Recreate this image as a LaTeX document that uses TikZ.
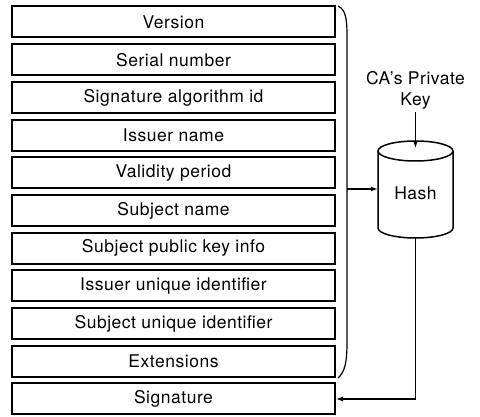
\documentclass[tikz,border=0pt]{standalone}
\usepackage{fontspec}
\setmainfont{TeX Gyre Heros}[LetterSpace=3]
\usepackage{tikz}
\usetikzlibrary{positioning, calc}
\usetikzlibrary{arrows.meta}

\begin{document}
\begin{tikzpicture}[x=1pt, y=1pt, font=\fontsize{17.5}{21}\selectfont,
    field/.style={draw, line width=2pt, minimum width=323pt, minimum height=31pt, inner sep=0pt},
    conn/.style={line width=1.2pt},
    tip/.style={-{Latex[length=7pt,width=5pt]}}]
            \useasboundingbox (0,0) rectangle (480,417);
            % certificate fields
            \foreach \t [count=\i] in {Version, Serial number, Signature algorithm id, Issuer name,
                Validity period, Subject name, Subject public key info, Issuer unique identifier,
                Subject unique identifier, Extensions, Signature}{
                \node[field] (f\i) at (173.5, {395-37.7*(\i-1)}) {\t};
            }
            % brace round the signed part
            \draw[conn] (338,411) .. controls (346,407) and (347,398) .. (347,380)
                -- (347,75) .. controls (347,55) and (345,45) .. (338,39);
            \coordinate (brace) at (347,228);
            % hash box
            \draw[line width=1.5pt] (378,266) -- (378,189) arc (180:360:37.5 and 10) -- (453,266);
            \draw[line width=1.5pt] (415.5,266) ellipse (37.5 and 10);
            \node[minimum width=75pt, inner sep=0pt] (hash) at (415.5,224) {Hash};
            \coordinate (hashtop) at (415.5,269);
            \coordinate (hashbot) at (415.5,179);
            \node[align=center] (key) at (415.5,327) {CA's Private\\Key};
            \draw[conn, tip] (key.south) -- (hashtop);
            \draw[conn, tip] (brace) -- (brace -| hash.west);
            \draw[conn, tip] (hashbot) |- (f11.east);
        \end{tikzpicture}
\end{document}
